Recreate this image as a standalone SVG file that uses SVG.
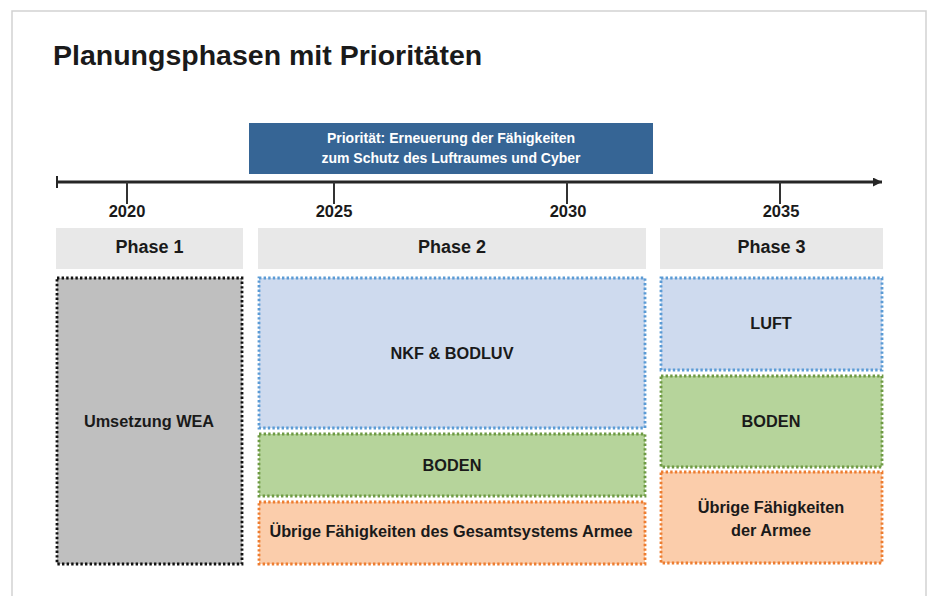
<svg xmlns="http://www.w3.org/2000/svg" width="930" height="596" viewBox="0 0 930 596">
<defs>
<style>
text{font-family:"Liberation Sans",Arial,sans-serif;font-weight:bold;fill:#1a1a1a;text-anchor:middle}
.title{font-size:28.5px;text-anchor:start}
.year{font-size:16.5px}
.phase{font-size:18px}
.prio{font-size:14px;fill:#ffffff}
.lbl{font-size:16.3px}
.hdr{fill:#e8e8e8}
.box{stroke-width:2.8;stroke-dasharray:2.4 2.2}
.gray{fill:#bfbfbf;stroke:#111111}
.blue{fill:#cedaee;stroke:#5b9bd5}
.green{fill:#b6d49b;stroke:#6e9a44}
.orange{fill:#fbcdab;stroke:#ed7d31}
</style>
<marker id="arr" viewBox="0 0 10 10" refX="10" refY="5" markerWidth="10" markerHeight="9" markerUnits="userSpaceOnUse" orient="auto">
<path d="M0,0 L10,5 L0,10 Z" fill="#262626"/>
</marker>
</defs>
<rect x="12" y="11" width="914" height="600" fill="#ffffff" stroke="#d2d2d2" stroke-width="1.5"/>
<text class="title" x="53" y="65">Planungsphasen mit Prioritäten</text>

<g id="priority">
<rect x="249" y="123" width="404" height="51" fill="#366595"/>
<text class="prio" x="451" y="143">Priorität: Erneuerung der Fähigkeiten</text>
<text class="prio" x="451" y="163">zum Schutz des Luftraumes und Cyber</text>
</g>

<g id="connectors">
<line x1="57" y1="182" x2="882" y2="182" stroke="#262626" stroke-width="3" marker-end="url(#arr)"/>
<line x1="57" y1="176" x2="57" y2="188" stroke="#262626" stroke-width="2"/>
<line x1="127" y1="182" x2="127" y2="204" stroke="#333333" stroke-width="2"/>
<line x1="334" y1="182" x2="334" y2="204" stroke="#333333" stroke-width="2"/>
<line x1="567" y1="182" x2="567" y2="204" stroke="#333333" stroke-width="2"/>
<line x1="780" y1="182" x2="780" y2="204" stroke="#333333" stroke-width="2"/>
</g>

<g id="years">
<text class="year" x="127" y="217">2020</text>
<text class="year" x="334" y="217">2025</text>
<text class="year" x="568" y="217">2030</text>
<text class="year" x="781" y="217">2035</text>
</g>

<g id="phase1">
<rect class="hdr" x="56" y="228" width="187" height="41"/>
<text class="phase" x="149.5" y="253">Phase 1</text>
</g>
<g id="phase2">
<rect class="hdr" x="258" y="228" width="388" height="41"/>
<text class="phase" x="452" y="253">Phase 2</text>
</g>
<g id="phase3">
<rect class="hdr" x="660" y="228" width="223" height="41"/>
<text class="phase" x="771.5" y="253">Phase 3</text>
</g>

<g id="wea">
<rect class="box gray" x="57" y="278" width="185" height="286"/>
<text class="lbl" x="149" y="427">Umsetzung WEA</text>
</g>
<g id="nkf">
<rect class="box blue" x="259" y="278" width="386" height="150"/>
<text class="lbl" x="452" y="359">NKF &amp; BODLUV</text>
</g>
<g id="boden2">
<rect class="box green" x="259" y="434" width="386" height="62"/>
<text class="lbl" x="452" y="471">BODEN</text>
</g>
<g id="uebrig2">
<rect class="box orange" x="259" y="502" width="386" height="62"/>
<text class="lbl" x="451" y="537">Übrige Fähigkeiten des Gesamtsystems Armee</text>
</g>
<g id="luft">
<rect class="box blue" x="661" y="278" width="221" height="92"/>
<text class="lbl" x="771" y="329">LUFT</text>
</g>
<g id="boden3">
<rect class="box green" x="661" y="376" width="221" height="91"/>
<text class="lbl" x="771" y="427">BODEN</text>
</g>
<g id="uebrig3">
<rect class="box orange" x="661" y="472" width="221" height="91"/>
<text class="lbl" x="771" y="513">Übrige Fähigkeiten</text>
<text class="lbl" x="771" y="536">der Armee</text>
</g>
</svg>
